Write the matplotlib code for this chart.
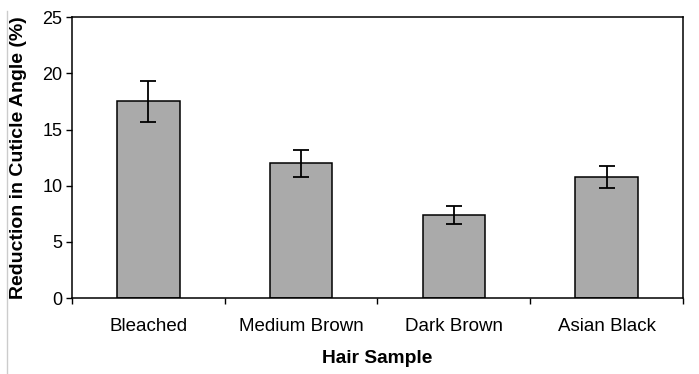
import matplotlib.pyplot as plt
import numpy as np
from matplotlib.lines import Line2D

plt.rcParams["font.family"] = ["Liberation Sans", "DejaVu Sans"]

samples = ["Bleached", "Medium Brown", "Dark Brown", "Asian Black"]
reduction = [17.5, 12.0, 7.4, 10.8]
errors = [1.8, 1.2, 0.8, 1.0]

fig = plt.figure(figsize=(6.99, 3.74), dpi=100)
ax = fig.add_axes([0.103, 0.203, 0.874, 0.751])

x = np.arange(len(samples))
ax.bar(x, reduction, width=0.41, color="#aaaaaa", edgecolor="black", linewidth=1.1,
       yerr=errors, capsize=5.5, error_kw={"elinewidth": 1.3, "capthick": 1.3, "ecolor": "black"})

ax.set_xlim(-0.5, len(samples) - 0.5)
ax.set_ylim(0, 25)
ax.set_yticks(np.arange(0, 26, 5))
ax.tick_params(axis="y", labelsize=13, length=4, width=1, pad=3)

# category labels centred, tick marks at category boundaries
ax.set_xticks(np.arange(-0.5, len(samples), 1.0))
ax.set_xticklabels([])
ax.set_xticks(x, minor=True)
ax.set_xticklabels(samples, minor=True, fontsize=13.5)
ax.tick_params(axis="x", which="major", length=4, width=1)
ax.tick_params(axis="x", which="minor", length=0, pad=14)

for s in ax.spines.values():
    s.set_linewidth(1.1)

ax.set_ylabel("Reduction in Cuticle Angle (%)", fontsize=14, fontweight="bold", labelpad=11)
ax.set_xlabel("Hair Sample", fontsize=13.8, fontweight="bold", labelpad=11)

fig.add_artist(Line2D([0.010, 0.010], [0.0, 0.97], color="#cccccc", linewidth=1.0))

fig.savefig("out.png", dpi=100)
